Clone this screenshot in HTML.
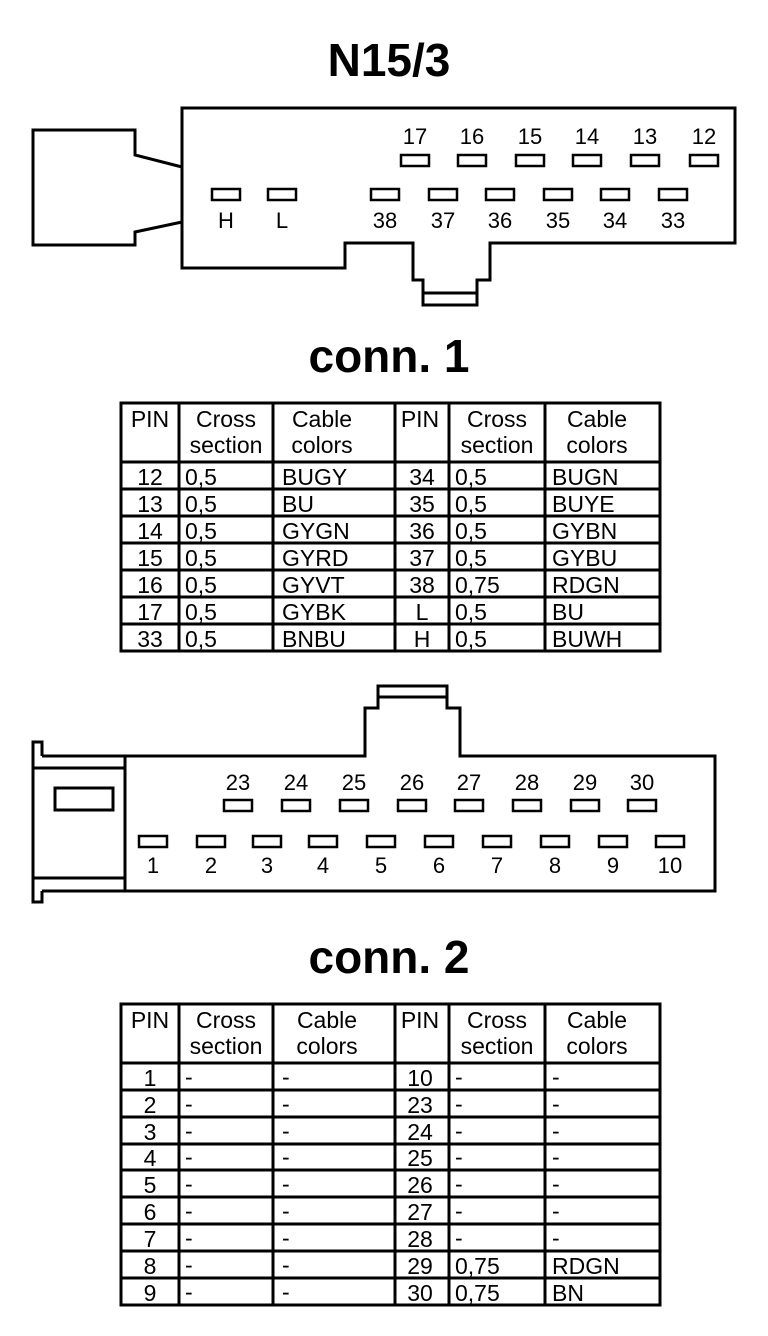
<!DOCTYPE html>
<html><head><meta charset="utf-8"><style>
html,body{margin:0;padding:0;background:#fff;}
svg{display:block;}
text{font-family:"Liberation Sans",Arial,sans-serif;fill:#000;}
.t{font-weight:bold;font-size:46px;}
.p{font-size:22px;}
.c{font-size:23px;}
</style></head><body>
<svg width="768" height="1336" viewBox="0 0 768 1336" xmlns="http://www.w3.org/2000/svg">
<g fill="none" stroke="#000" stroke-width="3" stroke-linejoin="miter">
<polyline points="182,167 135,155 135,130 33,130 33,245 135,245 135,232 182,222"/>
<path d="M182,108 H735 V243 H490 V280 H477 V305 H423 V280 H413 V243 H345 V268 H182 Z"/>
<line x1="423" y1="293" x2="477" y2="293"/>
<path d="M42,756 H365 V708 H378 V686 H447 V708 H460 V756 H715 V891 H42"/>
<line x1="378" y1="697" x2="447" y2="697"/>
<path d="M42,756 V742 H33 V902 H42 V891"/>
<line x1="125" y1="756" x2="125" y2="891"/>
<line x1="33" y1="768" x2="125" y2="768"/>
<line x1="33" y1="878" x2="125" y2="878"/>
<rect x="55" y="788" width="58" height="22"/>
</g>
<g fill="none" stroke="#000" stroke-width="2.5">
<rect x="401" y="155" width="28" height="11"/><rect x="458" y="155" width="28" height="11"/>
<rect x="516" y="155" width="28" height="11"/><rect x="573" y="155" width="28" height="11"/>
<rect x="631" y="155" width="28" height="11"/><rect x="690" y="155" width="28" height="11"/>
<rect x="212" y="189" width="28" height="11"/><rect x="268" y="189" width="28" height="11"/>
<rect x="371" y="189" width="28" height="11"/><rect x="429" y="189" width="28" height="11"/>
<rect x="486" y="189" width="28" height="11"/><rect x="544" y="189" width="28" height="11"/>
<rect x="601" y="189" width="28" height="11"/><rect x="659" y="189" width="28" height="11"/>
<rect x="224" y="800" width="28" height="11"/><rect x="282" y="800" width="28" height="11"/>
<rect x="340" y="800" width="28" height="11"/><rect x="398" y="800" width="28" height="11"/>
<rect x="455" y="800" width="28" height="11"/><rect x="513" y="800" width="28" height="11"/>
<rect x="571" y="800" width="28" height="11"/><rect x="628" y="800" width="28" height="11"/>
<rect x="139" y="836" width="28" height="11"/><rect x="197" y="836" width="28" height="11"/>
<rect x="253" y="836" width="28" height="11"/><rect x="309" y="836" width="28" height="11"/>
<rect x="367" y="836" width="28" height="11"/><rect x="425" y="836" width="28" height="11"/>
<rect x="483" y="836" width="28" height="11"/><rect x="541" y="836" width="28" height="11"/>
<rect x="599" y="836" width="28" height="11"/><rect x="656" y="836" width="28" height="11"/>
</g>
<g class="p" text-anchor="middle">
<text x="415" y="144">17</text><text x="472" y="144">16</text><text x="530" y="144">15</text>
<text x="587" y="144">14</text><text x="645" y="144">13</text><text x="704" y="144">12</text>
<text x="226" y="228">H</text><text x="282" y="228">L</text>
<text x="385" y="228">38</text><text x="443" y="228">37</text><text x="500" y="228">36</text>
<text x="558" y="228">35</text><text x="615" y="228">34</text><text x="673" y="228">33</text>
<text x="238" y="790">23</text><text x="296" y="790">24</text><text x="354" y="790">25</text>
<text x="412" y="790">26</text><text x="469" y="790">27</text><text x="527" y="790">28</text>
<text x="585" y="790">29</text><text x="642" y="790">30</text>
<text x="153" y="873">1</text><text x="211" y="873">2</text><text x="267" y="873">3</text>
<text x="323" y="873">4</text><text x="381" y="873">5</text><text x="439" y="873">6</text>
<text x="497" y="873">7</text><text x="555" y="873">8</text><text x="613" y="873">9</text>
<text x="670" y="873">10</text>
</g>
<text class="t" x="389" y="76" text-anchor="middle">N15/3</text>
<text class="t" x="389" y="372" text-anchor="middle" font-size="44">conn. 1</text>
<text class="t" x="389" y="973" text-anchor="middle" font-size="44">conn. 2</text>

<g stroke="#000" stroke-width="3" fill="none">
<rect x="121" y="403" width="539" height="248"/>
<line x1="179" y1="403" x2="179" y2="651"/><line x1="273" y1="403" x2="273" y2="651"/>
<line x1="395" y1="403" x2="395" y2="651"/><line x1="449" y1="403" x2="449" y2="651"/>
<line x1="545" y1="403" x2="545" y2="651"/>
<line x1="121" y1="462" x2="660" y2="462"/><line x1="121" y1="489" x2="660" y2="489"/>
<line x1="121" y1="516" x2="660" y2="516"/><line x1="121" y1="543" x2="660" y2="543"/>
<line x1="121" y1="570" x2="660" y2="570"/><line x1="121" y1="597" x2="660" y2="597"/>
<line x1="121" y1="624" x2="660" y2="624"/>
</g>
<g class="c">
<g text-anchor="middle">
<text x="150" y="427">PIN</text><text x="226" y="427">Cross</text><text x="226" y="453">section</text>
<text x="322" y="427">Cable</text><text x="322" y="453">colors</text>
<text x="420" y="427">PIN</text><text x="497" y="427">Cross</text><text x="497" y="453">section</text>
<text x="597" y="427">Cable</text><text x="597" y="453">colors</text>
<text x="150" y="485">12</text><text x="150" y="512">13</text><text x="150" y="539">14</text><text x="150" y="566">15</text><text x="150" y="593">16</text><text x="150" y="620">17</text><text x="150" y="647">33</text>
<text x="422" y="485">34</text><text x="422" y="512">35</text><text x="422" y="539">36</text><text x="422" y="566">37</text><text x="422" y="593">38</text><text x="422" y="620">L</text><text x="422" y="647">H</text>
</g>
<text x="185" y="485">0,5</text><text x="185" y="512">0,5</text><text x="185" y="539">0,5</text><text x="185" y="566">0,5</text><text x="185" y="593">0,5</text><text x="185" y="620">0,5</text><text x="185" y="647">0,5</text>
<text x="282" y="485">BUGY</text><text x="282" y="512">BU</text><text x="282" y="539">GYGN</text><text x="282" y="566">GYRD</text><text x="282" y="593">GYVT</text><text x="282" y="620">GYBK</text><text x="282" y="647">BNBU</text>
<text x="455" y="485">0,5</text><text x="455" y="512">0,5</text><text x="455" y="539">0,5</text><text x="455" y="566">0,5</text><text x="455" y="593">0,75</text><text x="455" y="620">0,5</text><text x="455" y="647">0,5</text>
<text x="552" y="485">BUGN</text><text x="552" y="512">BUYE</text><text x="552" y="539">GYBN</text><text x="552" y="566">GYBU</text><text x="552" y="593">RDGN</text><text x="552" y="620">BU</text><text x="552" y="647">BUWH</text>
</g>

<g stroke="#000" stroke-width="3" fill="none">
<rect x="121" y="1004" width="539" height="301"/>
<line x1="179" y1="1004" x2="179" y2="1305"/><line x1="273" y1="1004" x2="273" y2="1305"/>
<line x1="395" y1="1004" x2="395" y2="1305"/><line x1="449" y1="1004" x2="449" y2="1305"/>
<line x1="545" y1="1004" x2="545" y2="1305"/>
<line x1="121" y1="1063" x2="660" y2="1063"/><line x1="121" y1="1090" x2="660" y2="1090"/>
<line x1="121" y1="1117" x2="660" y2="1117"/><line x1="121" y1="1144" x2="660" y2="1144"/>
<line x1="121" y1="1170" x2="660" y2="1170"/><line x1="121" y1="1197" x2="660" y2="1197"/>
<line x1="121" y1="1224" x2="660" y2="1224"/><line x1="121" y1="1251" x2="660" y2="1251"/>
<line x1="121" y1="1278" x2="660" y2="1278"/>
</g>
<g class="c">
<g text-anchor="middle">
<text x="150" y="1028">PIN</text><text x="226" y="1028">Cross</text><text x="226" y="1054">section</text>
<text x="327" y="1028">Cable</text><text x="327" y="1054">colors</text>
<text x="420" y="1028">PIN</text><text x="497" y="1028">Cross</text><text x="497" y="1054">section</text>
<text x="597" y="1028">Cable</text><text x="597" y="1054">colors</text>
<text x="150" y="1086">1</text><text x="150" y="1113">2</text><text x="150" y="1140">3</text><text x="150" y="1166">4</text><text x="150" y="1193">5</text><text x="150" y="1220">6</text><text x="150" y="1247">7</text><text x="150" y="1274">8</text><text x="150" y="1301">9</text>
<text x="420" y="1086">10</text><text x="420" y="1113">23</text><text x="420" y="1140">24</text><text x="420" y="1166">25</text><text x="420" y="1193">26</text><text x="420" y="1220">27</text><text x="420" y="1247">28</text><text x="420" y="1274">29</text><text x="420" y="1301">30</text>
</g>
<g>
<text x="185" y="1085">-</text><text x="185" y="1112">-</text><text x="185" y="1139">-</text><text x="185" y="1165">-</text><text x="185" y="1192">-</text><text x="185" y="1219">-</text><text x="185" y="1246">-</text><text x="185" y="1273">-</text><text x="185" y="1300">-</text>
<text x="282" y="1085">-</text><text x="282" y="1112">-</text><text x="282" y="1139">-</text><text x="282" y="1165">-</text><text x="282" y="1192">-</text><text x="282" y="1219">-</text><text x="282" y="1246">-</text><text x="282" y="1273">-</text><text x="282" y="1300">-</text>
<text x="455" y="1085">-</text><text x="455" y="1112">-</text><text x="455" y="1139">-</text><text x="455" y="1165">-</text><text x="455" y="1192">-</text><text x="455" y="1219">-</text><text x="455" y="1246">-</text>
<text x="552" y="1085">-</text><text x="552" y="1112">-</text><text x="552" y="1139">-</text><text x="552" y="1165">-</text><text x="552" y="1192">-</text><text x="552" y="1219">-</text><text x="552" y="1246">-</text>
</g>
<text x="455" y="1274">0,75</text><text x="455" y="1301">0,75</text>
<text x="552" y="1274">RDGN</text><text x="552" y="1301">BN</text>
</g>
</svg>
</body></html>
